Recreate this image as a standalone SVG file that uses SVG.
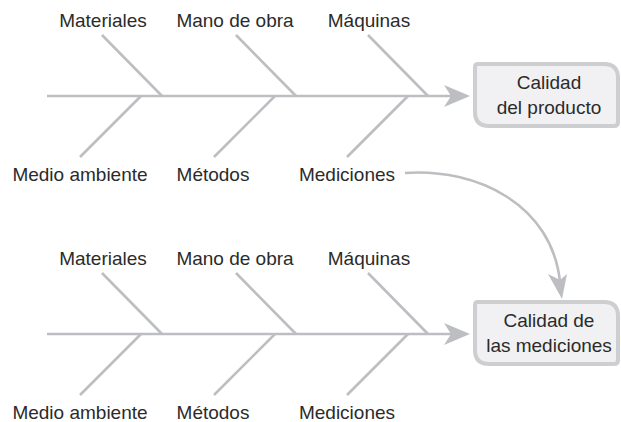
<svg xmlns="http://www.w3.org/2000/svg" width="621" height="422" viewBox="0 0 621 422">
<style>
.ln{stroke:#bdbec1;stroke-width:2.6;fill:none;stroke-linecap:butt}
.ah{fill:#bdbec1;stroke:none}
.t{font-family:"Liberation Sans",Arial,sans-serif;font-size:19px;fill:#2b2b2b;text-anchor:middle}
.box{fill:#f1f1f3;stroke:#cdced0;stroke-width:4}
</style>
<rect width="621" height="422" fill="#ffffff"/>
<g id="connectors">
  <!-- top fishbone -->
  <line class="ln" x1="47" y1="96" x2="452" y2="96"/>
  <line class="ln" x1="102" y1="35" x2="162" y2="96"/>
  <line class="ln" x1="236" y1="35" x2="296" y2="96"/>
  <line class="ln" x1="368" y1="35" x2="428" y2="96"/>
  <line class="ln" x1="141" y1="96" x2="80" y2="157"/>
  <line class="ln" x1="275" y1="96" x2="214" y2="157"/>
  <line class="ln" x1="408" y1="96" x2="347" y2="157"/>
  <path class="ah" d="M470,96 L444,85 L451,96 L444,107 Z"/>
  <!-- bottom fishbone -->
  <line class="ln" x1="47" y1="334" x2="452" y2="334"/>
  <line class="ln" x1="102" y1="273" x2="162" y2="334"/>
  <line class="ln" x1="236" y1="273" x2="296" y2="334"/>
  <line class="ln" x1="368" y1="273" x2="428" y2="334"/>
  <line class="ln" x1="141" y1="334" x2="80" y2="395"/>
  <line class="ln" x1="275" y1="334" x2="214" y2="395"/>
  <line class="ln" x1="408" y1="334" x2="347" y2="395"/>
  <path class="ah" d="M470,334 L444,323 L451,334 L444,345 Z"/>
  <!-- curved connector -->
  <path class="ln" d="M405,173 C478,168 552,205 560,282"/>
  <path class="ah" d="M562,299 L548,274 L560,280 L567,274 Z"/>
</g>
<g id="node-materiales-1"><text class="t" x="103" y="27">Materiales</text></g>
<g id="node-mano-1"><text class="t" x="235" y="27">Mano de obra</text></g>
<g id="node-maquinas-1"><text class="t" x="369" y="27">Máquinas</text></g>
<g id="node-medio-1"><text class="t" x="80" y="181">Medio ambiente</text></g>
<g id="node-metodos-1"><text class="t" x="213" y="181">Métodos</text></g>
<g id="node-mediciones-1"><text class="t" x="347" y="181">Mediciones</text></g>
<g id="node-calidad-producto">
  <path class="box" d="M478,64 L604,64 Q618,64 618,78 L618,122 Q618,126 614,126 L489,126 Q475,126 475,112 L475,67 Q475,64 478,64 Z"/>
  <text class="t" x="549" y="89">Calidad</text>
  <text class="t" x="549" y="114">del producto</text>
</g>
<g id="node-materiales-2"><text class="t" x="103" y="265">Materiales</text></g>
<g id="node-mano-2"><text class="t" x="235" y="265">Mano de obra</text></g>
<g id="node-maquinas-2"><text class="t" x="369" y="265">Máquinas</text></g>
<g id="node-medio-2"><text class="t" x="80" y="419">Medio ambiente</text></g>
<g id="node-metodos-2"><text class="t" x="213" y="419">Métodos</text></g>
<g id="node-mediciones-2"><text class="t" x="347" y="419">Mediciones</text></g>
<g id="node-calidad-mediciones">
  <path class="box" d="M478,302 L604,302 Q618,302 618,316 L618,360 Q618,364 614,364 L489,364 Q475,364 475,350 L475,305 Q475,302 478,302 Z"/>
  <text class="t" x="549" y="327">Calidad de</text>
  <text class="t" x="549" y="352">las mediciones</text>
</g>
</svg>
